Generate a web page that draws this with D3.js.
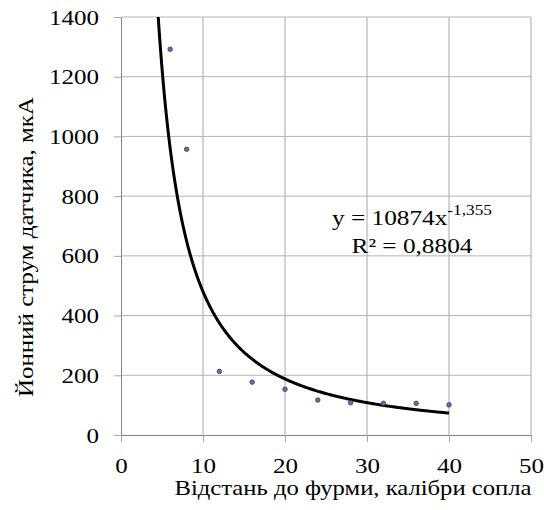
<!DOCTYPE html>
<html>
<head>
<meta charset="utf-8">
<script src="https://cdn.jsdelivr.net/npm/d3@7"></script>
</head>
<body style="margin:0">
<div id="chart"></div>
<script>
// data
var distance = [6, 8, 12, 16, 20, 24, 28, 32, 36, 40];
var current  = [1292, 957, 213, 177, 153, 117, 108, 106, 106, 101];
var xTicks = [0, 10, 20, 30, 40, 50];
var yTicks = [0, 200, 400, 600, 800, 1000, 1200, 1400];

// power trendline shown on the chart: y = a * x^b
var trendA = 10874, trendB = -1.355;
var trendLabel = "y = 10874x", trendPow = "-1,355", r2Label = "R² = 0,8804";

var W = 544, H = 510;
var margin = {top: 17, right: 13, bottom: 75, left: 121};
var width = W - margin.left - margin.right,
    height = H - margin.top - margin.bottom;
var sx = 1.19; // the fonts in the picture are a bit stretched
var fontName = "Liberation Serif";

var root = d3.select("#chart")
  .append("svg")
    .attr("width", W)
    .attr("height", H)
    .style("font-family", fontName);
var svg = root.append("g")
    .attr("transform", "translate(" + margin.left + "," + margin.top + ")");

var x = d3.scaleLinear().domain([0, 50]).range([0, width]);
var y = d3.scaleLinear().domain([0, 1400]).range([height, 0]);

// grid
svg.append("g").selectAll("line")
  .data(xTicks.slice(1))
  .enter().append("line")
    .attr("x1", d => x(d)).attr("x2", d => x(d))
    .attr("y1", 0).attr("y2", height)
    .attr("stroke", "#a6a6a6").attr("stroke-width", 1);
svg.append("g").selectAll("line")
  .data(yTicks.slice(1))
  .enter().append("line")
    .attr("x1", 0).attr("x2", width)
    .attr("y1", d => y(d)).attr("y2", d => y(d))
    .attr("stroke", "#b4b4b4").attr("stroke-width", 1);

// axes
var xAxis = svg.append("g")
  .attr("transform", "translate(0," + height + ")")
  .call(d3.axisBottom(x).tickValues(xTicks).tickFormat(d3.format("d"))
    .tickSize(7).tickSizeOuter(0).tickPadding(0));
var yAxis = svg.append("g")
  .call(d3.axisLeft(y).tickValues(yTicks).tickFormat(d3.format("d"))
    .tickSize(7).tickSizeOuter(0).tickPadding(0));

[xAxis, yAxis].forEach(function(a) {
  a.attr("font-family", fontName).attr("font-size", 21);
  a.select(".domain").attr("stroke", "#858585");
  a.selectAll(".tick line").attr("stroke", "#a6a6a6");
  a.selectAll(".tick text")
    .style("font-family", d => "'" + fontName + "'")
    .style("fill", "#000");
});

xAxis.selectAll(".tick text")
  .attr("y", 0).attr("dy", null)
  .attr("transform", "translate(0,38) scale(" + sx + ",1)");
yAxis.selectAll(".tick text")
  .attr("x", 0).attr("dy", null)
  .attr("transform", "translate(-22,7) scale(" + sx + ",1)");

// axis titles
svg.append("text")
  .attr("x", 232).attr("y", height + 60)
  .attr("text-anchor", "middle")
  .attr("textLength", 357).attr("lengthAdjust", "spacingAndGlyphs")
  .style("font-family", "'" + fontName + "'")
  .style("font-size", "21px")
  .text("Відстань до фурми, калібри сопла");

svg.append("text")
  .attr("transform", "translate(" + (33 - margin.left) + "," + (247 - margin.top) + ") rotate(-90)")
  .attr("text-anchor", "middle")
  .attr("textLength", 300).attr("lengthAdjust", "spacingAndGlyphs")
  .style("font-family", "'" + fontName + "'")
  .style("font-size", "21px")
  .text("Йонний струм датчика, мкА");

// trendline
var trendX = d3.range(Math.pow(1400 / trendA, 1 / trendB), 40.001, 0.1);
trendX.push(40);
var line = d3.line()
  .x(d => x(d))
  .y(d => y(trendA * Math.pow(d, trendB)));
svg.append("path")
  .datum(trendX)
  .attr("d", line)
  .attr("fill", "none")
  .attr("stroke", "#000")
  .attr("stroke-width", 3);

// points
svg.append("g").selectAll("circle")
  .data(distance)
  .enter().append("circle")
    .attr("cx", (d, i) => x(d))
    .attr("cy", (d, i) => y(current[i]))
    .attr("r", 2.3)
    .attr("fill", "#8064a2")
    .attr("stroke", "#3c2f55")
    .attr("stroke-width", 0.7);

// equation
var eq = svg.append("text")
  .attr("transform", "translate(" + (332 - margin.left) + "," + (225 - margin.top) + ") scale(1.15,1)")
  .style("font-family", "'" + fontName + "'")
  .style("font-size", "22px");
eq.append("tspan").text(trendLabel);
eq.append("tspan").attr("dy", -10).style("font-size", "15px").text(trendPow);

svg.append("text")
  .attr("transform", "translate(" + (412 - margin.left) + "," + (253 - margin.top) + ") scale(1.15,1)")
  .attr("text-anchor", "middle")
  .style("font-family", "'" + fontName + "'")
  .style("font-size", "22px")
  .text(r2Label);
</script>
</body>
</html>
